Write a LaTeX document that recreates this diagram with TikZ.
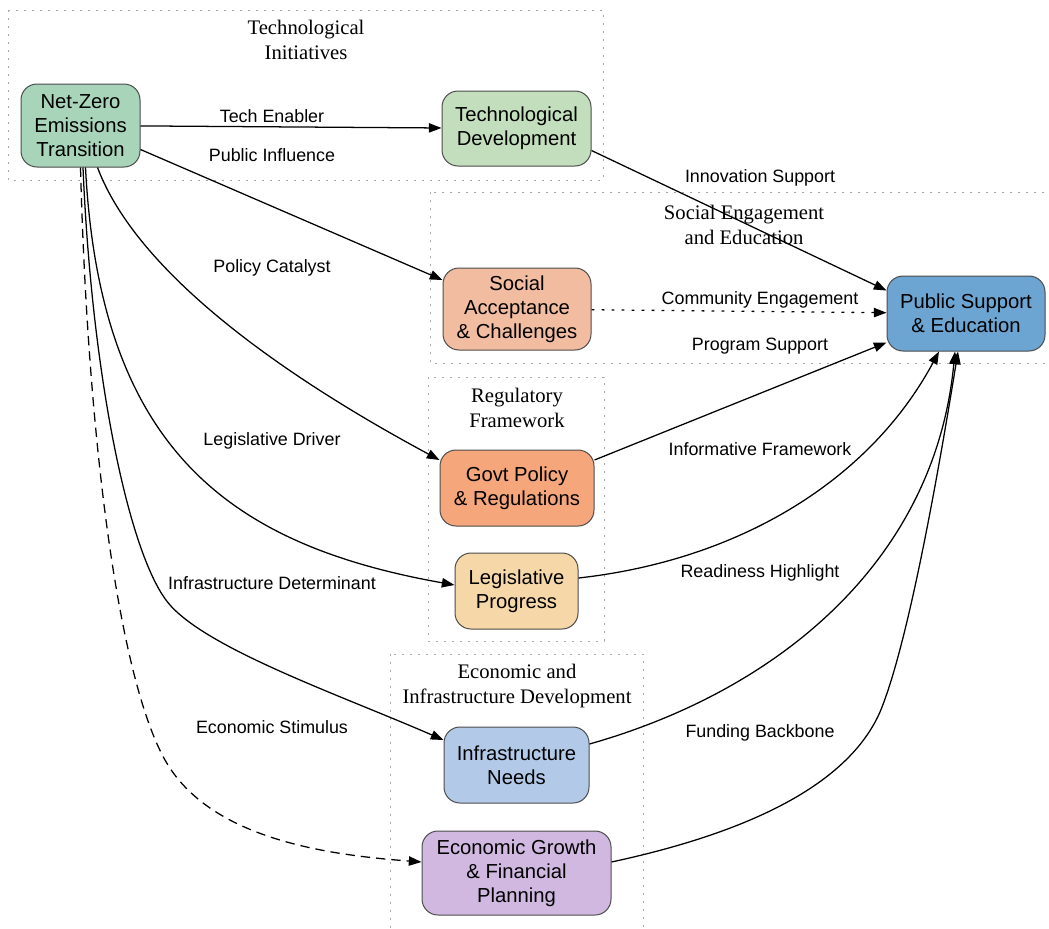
\documentclass[tikz,border=0pt]{standalone}
\usepackage{fontspec}
\setmainfont{Liberation Serif}
\setsansfont{Liberation Sans}
\usetikzlibrary{arrows.meta,calc,positioning}

\definecolor{netfill}{HTML}{A8D5BA}
\definecolor{techfill}{HTML}{C2DEBC}
\definecolor{socialfill}{HTML}{F2BCA0}
\definecolor{publicfill}{HTML}{6CA4D2}
\definecolor{govtfill}{HTML}{F6A67B}
\definecolor{legisfill}{HTML}{F6D8A8}
\definecolor{infrafill}{HTML}{B2CAE8}
\definecolor{econfill}{HTML}{D0B8E0}

\begin{document}
\begin{tikzpicture}[
                    x=0.75pt, y=-0.75pt,
                    -{Triangle[length=9.5pt,width=7pt]},
                    line width=0.95pt,
                    box/.style={draw=black!70, line width=0.75pt, rounded corners=12pt,
                                align=center, inner sep=0pt,
                                font=\sffamily\fontsize{15.2}{18}\selectfont},
                    lbl/.style={font=\sffamily\fontsize{13.4}{15}\selectfont},
                    clus/.style={-, draw=black!35, line width=0.75pt,
                                 dash pattern=on 1.2pt off 4.8pt},
                    clustitle/.style={align=center, font=\rmfamily\fontsize{15.5}{19}\selectfont}
                ]
                \path[use as bounding box, clip] (0,0) rectangle (1049,928);

                % clusters
                \draw[clus] (8,10) rectangle (603,180);
                \draw[clus] (430,192) rectangle (1058,363);
                \draw[clus] (428,377) rectangle (604,641);
                \draw[clus] (390,654) rectangle (643,940);
                \node[clustitle] (t-tech) at (306,40) {Technological\\Initiatives};
                \node[clustitle] (t-social) at (744,225) {Social Engagement\\and Education};
                \node[clustitle] (t-reg) at (517,408) {Regulatory\\Framework};
                \node[clustitle] (t-econ) at (517,686) {Economic and\\Infrastructure Development};

                % nodes
                \node[box, fill=netfill, minimum width=89.25pt, minimum height=62.25pt]
                    (net-zero) at (80.5,125.5) {Net-Zero\\Emissions\\Transition};
                \node[box, fill=techfill, minimum width=111.75pt, minimum height=56.25pt]
                    (tech-dev) at (516.5,128.5) {Technological\\Development};
                \node[box, fill=socialfill, minimum width=111pt, minimum height=61.5pt]
                    (social-acc) at (517,309) {Social\\Acceptance\\\& Challenges};
                \node[box, fill=publicfill, minimum width=118.5pt, minimum height=56.25pt]
                    (public-sup) at (966,313.5) {Public Support\\\& Education};
                \node[box, fill=govtfill, minimum width=115.5pt, minimum height=57pt]
                    (govt-pol) at (517,488) {Govt Policy\\\& Regulations};
                \node[box, fill=legisfill, minimum width=92.25pt, minimum height=57pt]
                    (legis-prog) at (516.5,591) {Legislative\\Progress};
                \node[box, fill=infrafill, minimum width=108.75pt, minimum height=57pt]
                    (infra-need) at (516.5,765) {Infrastructure\\Needs};
                \node[box, fill=econfill, minimum width=141.75pt, minimum height=63pt]
                    (econ-grow) at (516.5,873) {Economic Growth\\\& Financial\\Planning};

                % edges out of the transition node
                \path
                (net-zero) edge (tech-dev)
                ($(net-zero.east)+(0,24)$) edge ($(social-acc.west)+(0,-29)$)
                ;
                \draw ($(net-zero.south)+(17,0)$) .. controls (140,280) and (300,385) .. ($(govt-pol.west)+(0,-28)$);
                \draw ($(net-zero.south)+(5,0)$) .. controls (100,450) and (230,545) .. ($(legis-prog.west)+(0,-6)$);
                \draw ($(net-zero.south)+(2.5,0)$) .. controls (92,380) and (130,560) .. (170,605)
                    .. controls (210,650) and (340,695) .. ($(infra-need.west)+(0,-25)$);
                \draw[dash pattern=on 7pt off 4.5pt] (net-zero.south) .. controls (88,450) and (120,680) .. (165,760)
                    .. controls (210,840) and (330,855) .. ($(econ-grow.west)+(0,-11)$);

                % edges into public support
                \path
                ($(tech-dev.east)+(0,22)$) edge ($(public-sup.west)+(0,-23)$)
                (social-acc) edge[dash pattern=on 2.2pt off 5.3pt] (public-sup)
                ($(govt-pol.east)+(0,-28)$) edge ($(public-sup.west)+(0,29)$)
                ;
                \draw ($(legis-prog.east)+(0,-13)$) .. controls (740,560) and (870,480) .. ($(public-sup.south)+(-27,0)$);
                \draw ($(infra-need.east)+(0,-21)$) .. controls (780,690) and (935,560) .. ($(public-sup.south)+(-11,0)$);
                \draw ($(econ-grow.east)+(0,-11)$) .. controls (760,830) and (850,780) .. (880,712)
                    .. controls (910,640) and (942,450) .. ($(public-sup.south)+(-8,0)$);

                % edge labels
                \node[lbl] (l-tech) at (272,116) {Tech Enabler};
                \node[lbl] (l-public) at (272,155) {Public Influence};
                \node[lbl] (l-policy) at (272,268) {Policy Catalyst};
                \node[lbl] (l-legis) at (272,441) {Legislative Driver};
                \node[lbl] (l-infra) at (272,583) {Infrastructure Determinant};
                \node[lbl] (l-econ) at (272,727) {Economic Stimulus};
                \node[lbl] (l-innov) at (760,178) {Innovation Support};
                \node[lbl] (l-comm) at (760,300) {Community Engagement};
                \node[lbl] (l-prog) at (760,346) {Program Support};
                \node[lbl] (l-inform) at (760,449) {Informative Framework};
                \node[lbl] (l-ready) at (760,573) {Readiness Highlight};
                \node[lbl] (l-fund) at (760,733) {Funding Backbone};
            \end{tikzpicture}
\end{document}
